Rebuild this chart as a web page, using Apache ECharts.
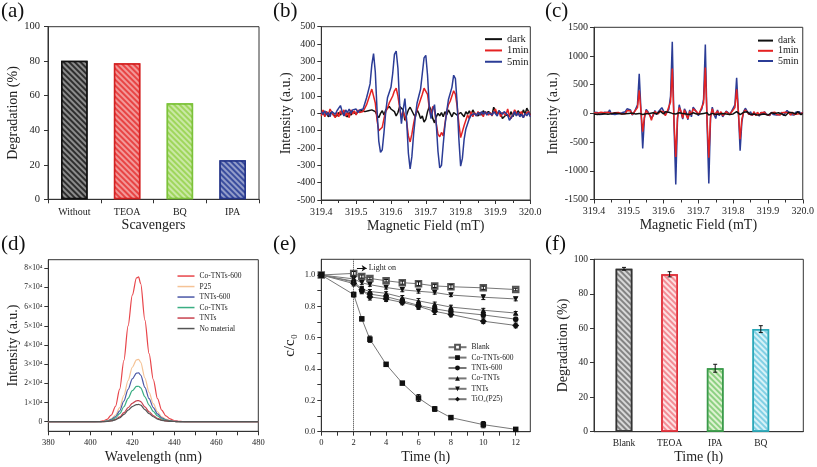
<!DOCTYPE html>
<html><head><meta charset="utf-8">
<script src="https://cdn.jsdelivr.net/npm/echarts@6/dist/echarts.min.js"></script>
<style>html,body{margin:0;padding:0;background:#fff}#c{width:817px;height:467px}</style>
</head><body><div id="c"></div>
<script>
// ---------- (a) ----------
const aCats = ['Without','TEOA','BQ','IPA'];
const aVals = [80.2, 78.8, 55.7, 22.6];
// ---------- (b),(c) shared field grid (mT) ----------
const field = [319.400,319.405,319.410,319.415,319.420,319.425,319.430,319.435,319.440,319.445,
319.450,319.455,319.460,319.465,319.470,319.475,319.480,319.485,319.490,319.495,
319.500,319.505,319.510,319.515,319.520,319.525,319.530,319.535,319.540,319.545,
319.550,319.555,319.560,319.565,319.570,319.575,319.580,319.585,319.590,319.595,
319.600,319.605,319.610,319.615,319.620,319.625,319.630,319.635,319.640,319.645,
319.650,319.655,319.660,319.665,319.670,319.675,319.680,319.685,319.690,319.695,
319.700,319.705,319.710,319.715,319.720,319.725,319.730,319.735,319.740,319.745,
319.750,319.755,319.760,319.765,319.770,319.775,319.780,319.785,319.790,319.795,
319.800,319.805,319.810,319.815,319.820,319.825,319.830,319.835,319.840,319.845,
319.850,319.855,319.860,319.865,319.870,319.875,319.880,319.885,319.890,319.895,
319.900,319.905,319.910,319.915,319.920,319.925,319.930,319.935,319.940,319.945,
319.950,319.955,319.960,319.965,319.970,319.975,319.980,319.985,319.990,319.995,
320.000];
const bDark = [-10,5,-15,10,-20,-5,10,-10,0,-15,5,-10,10,-5,0,-20,5,-10,10,0,
-5,10,0,15,5,10,0,15,10,20,30,10,-10,-25,0,15,-10,20,30,40,
25,30,10,-15,5,40,45,20,-40,-10,20,35,30,-5,-20,20,0,-30,-15,-50,
-35,10,40,20,-30,-55,-20,0,-15,5,-20,10,-10,20,0,-20,5,10,-10,-20,
5,0,-20,10,-5,15,-10,20,0,10,-15,5,-10,15,0,-5,10,15,-10,35,
10,-5,15,0,-30,-20,-10,-5,-15,10,-20,5,-10,15,0,-15,20,-5,30,10,-10];
const b1min = [-15,20,-20,10,-10,25,30,-10,-25,5,-20,15,-5,20,-15,10,-25,20,-5,15,
-10,20,5,15,10,20,50,80,110,140,130,60,-40,-100,-105,-80,-30,10,30,60,
80,100,130,145,100,30,-20,10,20,-50,-130,-165,-120,-60,-10,20,50,80,110,145,
155,110,30,-20,40,20,-60,-120,-135,-110,-130,-60,10,50,70,80,130,110,40,-60,
-140,-130,-70,-40,-10,-30,10,-20,5,-15,10,-10,5,-20,10,20,-10,5,-15,10,
25,-5,10,-20,5,15,-10,25,-15,-30,-5,20,30,-10,-20,10,-25,-5,-15,10,-15];
const b5min = [10,-5,15,-10,5,-20,10,20,-5,15,30,45,10,-15,20,5,25,0,20,10,
25,5,20,10,25,30,90,130,170,280,345,240,20,-160,-225,-210,-110,10,90,120,
150,230,340,360,260,50,-60,20,85,-40,-230,-320,-250,-120,-20,60,100,140,230,320,
335,220,40,-30,20,50,-60,-220,-315,-300,-180,-70,10,80,90,150,220,200,60,-150,
-305,-260,-150,-90,-60,-30,-10,-20,0,-15,5,-10,10,-5,10,-10,5,15,-10,10,
5,-15,15,20,-5,10,20,-10,-40,-35,-10,10,-15,5,-20,-5,-25,0,-15,5,-20];
const cDark = [-10,10,-20,5,-10,10,-5,0,-15,10,-5,-10,5,-20,0,10,-10,5,-5,10,
0,-10,5,-20,-10,-30,0,10,-20,-10,-5,20,0,-20,10,30,-10,20,40,20,
-10,30,50,20,-10,0,30,-10,-30,10,-20,0,20,-10,10,-20,-30,10,20,-10,
-40,-10,20,0,-20,10,-30,-10,0,20,-20,10,-10,-40,0,20,-10,10,-20,10,
-10,0,30,10,-20,-10,20,-10,30,0,-20,10,-10,20,-30,0,-20,10,-10,20,
-30,-10,10,-20,0,-30,10,-20,-10,0,-40,-10,20,30,10,-20,-10,30,10,-20,0];
const c1min = [10,-20,5,-10,20,-5,10,-15,20,30,0,-10,10,-15,15,5,-10,20,-5,50,
70,40,-20,20,30,100,400,30,-320,-60,50,40,-30,-120,-20,30,10,-10,40,60,
30,-40,30,50,200,780,-150,-760,-70,100,40,-80,60,-30,-90,40,-20,80,50,30,
-20,40,60,180,800,-120,-770,-60,80,-30,-60,40,-20,30,-40,-10,30,0,-20,20,
40,100,420,20,-450,-100,20,60,30,-10,20,-30,30,-40,20,-30,10,-10,20,-20,
0,-30,10,-10,20,-20,10,-30,10,-20,20,30,10,-30,20,-20,10,-10,20,0,10];
const c5min = [20,-10,15,-20,10,-15,20,-10,10,60,-10,15,-20,10,-5,20,10,-15,30,80,
110,60,-30,10,40,150,690,50,-610,-80,70,30,0,-80,-40,50,-20,30,60,100,
40,-20,20,70,300,1250,-200,-1240,-100,150,20,-100,80,20,-110,60,-60,110,70,20,
-40,30,80,250,1200,-180,-1220,-80,110,-20,-90,60,-40,20,-60,-30,40,20,-10,30,
60,150,620,30,-650,-150,30,90,40,-20,30,-40,20,-30,10,-50,20,-20,30,-10,
10,-40,20,-20,10,-30,0,-20,20,-40,10,50,30,-20,10,-30,20,0,30,-10,20];
// ---------- (d) (intensity in units of 10^4) ----------
const wl = [380,390,400,404,406,408,410,412,414,416,418,420,422,423,424,426,428,430,432,434,436,438,440,442,444,446,450,460,470,480];
const dCo600 = [0,0,0,0.01,0.04,0.12,0.35,0.8,1.7,3.2,5.0,6.6,7.5,7.55,7.2,5.3,3.55,2.2,1.2,0.6,0.3,0.15,0.06,0.02,0.01,0,0,0,0,0];
const dP25   = [0,0,0,0,0.01,0.05,0.15,0.35,0.73,1.38,2.15,2.84,3.23,3.25,3.1,2.28,1.53,0.94,0.52,0.26,0.13,0.06,0.03,0.01,0,0,0,0,0,0];
const dT600  = [0,0,0,0,0.01,0.04,0.12,0.27,0.57,1.08,1.69,2.23,2.53,2.55,2.43,1.79,1.2,0.74,0.41,0.2,0.1,0.05,0.02,0.01,0,0,0,0,0,0];
const dCo    = [0,0,0,0,0.01,0.03,0.09,0.2,0.42,0.78,1.22,1.62,1.84,1.85,1.77,1.3,0.87,0.54,0.3,0.15,0.07,0.04,0.01,0,0,0,0,0,0,0];
const dT     = [0,0,0,0,0,0.02,0.05,0.12,0.25,0.47,0.73,0.96,1.09,1.1,1.05,0.77,0.52,0.32,0.18,0.09,0.04,0.02,0.01,0,0,0,0,0,0,0];
const dNone  = [0,0,0,0,0,0.01,0.04,0.1,0.2,0.38,0.6,0.79,0.89,0.9,0.86,0.63,0.42,0.26,0.14,0.07,0.04,0.02,0.01,0,0,0,0,0,0,0];
const dNames = ['Co-TNTs-600','P25','TNTs-600','Co-TNTs','TNTs','No material'];
const dYTicks = [0,1,2,3,4,5,6,7,8];
// ---------- (e) ----------
const time = [0,2,2.5,3,4,5,6,7,8,10,12];
const eBlank = [1.0,1.01,0.99,0.978,0.963,0.951,0.944,0.93,0.925,0.918,0.907];
const eCo600 = [1.0,0.875,0.72,0.59,0.43,0.31,0.215,0.145,0.09,0.045,0.015];
const eT600  = [1.0,0.955,0.9,0.878,0.862,0.835,0.806,0.784,0.767,0.745,0.718];
const eCo    = [1.0,0.96,0.91,0.895,0.883,0.857,0.835,0.815,0.795,0.775,0.757];
const eT     = [1.0,0.975,0.95,0.938,0.92,0.905,0.896,0.888,0.872,0.858,0.847];
const eP25   = [1.0,0.945,0.905,0.86,0.846,0.825,0.8,0.768,0.748,0.705,0.678];
const eBlankErr = [0,0.012,0.01,0.008,0.008,0.01,0.012,0.01,0.012,0.01,0.008];
const eCo600Err = [0,0.015,0.012,0.02,0.01,0.01,0.022,0.015,0.01,0.02,0.01];
const eT600Err  = [0,0.012,0.02,0.015,0.012,0.015,0.02,0.015,0.015,0.015,0.012];
const eCoErr    = [0,0.01,0.015,0.012,0.01,0.012,0.015,0.012,0.012,0.012,0.01];
const eTErr     = [0,0.012,0.012,0.01,0.01,0.012,0.012,0.01,0.01,0.015,0.012];
const eP25Err   = [0,0.015,0.02,0.02,0.015,0.015,0.02,0.02,0.015,0.015,0.015];
const eNames = ['Blank','Co-TNTs-600','TNTs-600','Co-TNTs','TNTs','TiO₂(P25)'];
const eXTicks = [0,1,2,3,4,5,6,7,8,9,10,11,12];
const eXLabels = [0,2,4,6,8,10,12];
const eYLabels = [0,0.2,0.4,0.6,0.8,1.0];
const lightOnAt = 2;
// ---------- (f) ----------
const fCats = ['Blank','TEOA','IPA','BQ'];
const fPos = [1,2,3,4];
const fVals = [94.5, 91.3, 36.8, 59.5];
const fErr = [0.8, 1.5, 2.3, 2.0];

const F = '"Liberation Serif","Times New Roman",serif';
const AX = '#333';
function ax(o){
  const base = {
    nameLocation:'middle',
    nameTextStyle:{fontFamily:F,fontSize:14,color:'#222'},
    axisLine:{show:true,onZero:false,lineStyle:{color:AX,width:1}},
    axisTick:{show:true,inside:false,length:4,lineStyle:{color:AX}},
    splitLine:{show:false}
  };
  const r = Object.assign(base, o);
  r.axisLabel = Object.assign({fontFamily:F,color:'#222',fontSize:10,margin:6}, o.axisLabel||{});
  if (o.axisTick) r.axisTick = Object.assign({show:true,inside:false,length:4,lineStyle:{color:AX}}, o.axisTick);
  return r;
}
function grid(l,t,w,h){return {left:l,top:t,width:w,height:h,show:true,borderColor:AX,borderWidth:1,backgroundColor:'transparent'};}
function hatch(c){return {symbol:'rect',symbolSize:1,dashArrayX:[1,0],dashArrayY:[2,2],rotation:Math.PI/4,color:c};}
function errRender(params, api){
  const x=api.value(0), y=api.value(1), e=api.value(2);
  if(!e) return {type:'group',children:[]};
  const t=api.coord([x,y+e]), b=api.coord([x,y-e]);
  const w=2, st={stroke:'#111',lineWidth:1};
  return {type:'group',children:[
    {type:'line',shape:{x1:t[0],y1:t[1],x2:b[0],y2:b[1]},style:st},
    {type:'line',shape:{x1:t[0]-w,y1:t[1],x2:t[0]+w,y2:t[1]},style:st},
    {type:'line',shape:{x1:b[0]-w,y1:b[1],x2:b[0]+w,y2:b[1]},style:st}]};
}
const zw = '\u200b';
const strip = n => n.replace(/\u200b/g,'');

const aColors = [['#2e2e2e','#111'],['#e84444','#d42222'],['#9fd65c','#7cc23a'],['#3a4d9e','#25368a']];
const fColors = [['#d8d8d8','#333','rgba(110,110,110,0.8)'],['#fde0e2','#e0303a','rgba(240,120,130,0.8)'],['#def2d2','#3a9a4a','rgba(120,200,110,0.8)'],['#d6f2f7','#2ba8b8','rgba(110,200,225,0.8)']];
const dColors = ['#e8454a','#f5c396','#4a57a6','#3aae83','#c8424f','#555555'];

const series = [];
// (a)
series.push({type:'bar',xAxisIndex:0,yAxisIndex:0,barWidth:26.5,
  data:aVals.map((v,i)=>({value:v,itemStyle:{color:aColors[i][0],borderColor:aColors[i][1],borderWidth:1.5,decal:hatch('rgba(255,255,255,0.45)')}}))});
// (b)
const bSer = [['dark',bDark,'#111'],['1min',b1min,'#e52222'],['5min',b5min,'#2b3c96']];
bSer.forEach(s=>series.push({type:'line',name:s[0],xAxisIndex:1,yAxisIndex:1,symbol:'none',showSymbol:false,
  lineStyle:{color:s[2],width:1.5},itemStyle:{color:s[2]},data:field.map((x,i)=>[x,s[1][i]])}));
// (c)
const cSer = [['5min'+zw,c5min,'#2b3c96'],['1min'+zw,c1min,'#e52222'],['dark'+zw,cDark,'#111']];
cSer.forEach(s=>series.push({type:'line',name:s[0],xAxisIndex:2,yAxisIndex:2,symbol:'none',showSymbol:false,
  lineStyle:{color:s[2],width:1.5},itemStyle:{color:s[2]},data:field.map((x,i)=>[x,s[1][i]])}));
// (d)
[dCo600,dP25,dT600,dCo,dT,dNone].forEach((arr,k)=>series.push({type:'line',name:dNames[k],xAxisIndex:3,yAxisIndex:3,
  symbol:'none',showSymbol:false,smooth:0.3,smoothMonotone:'x',lineStyle:{color:dColors[k],width:1.2},itemStyle:{color:dColors[k]},
  data:wl.map((x,i)=>[x,arr[i]])}));
// (e)
const downTri = 'path://M0,0L10,0L5,9Z';
const eSer = [[eBlank,eBlankErr,'emptyRect','#555'],[eCo600,eCo600Err,'rect','#111'],[eT600,eT600Err,'circle','#111'],
              [eCo,eCoErr,'triangle','#111'],[eT,eTErr,downTri,'#111'],[eP25,eP25Err,'diamond','#111']];
eSer.forEach((s,k)=>{
  const ser = {type:'line',name:eNames[k]+zw,xAxisIndex:4,yAxisIndex:4,symbol:s[2],symbolSize:s[2]==='diamond'?7:5.5,
    lineStyle:{color:'#777',width:1},itemStyle:{color:s[3],borderWidth:s[2]==='emptyRect'?0.8:0},
    data:time.map((t,i)=>[t,s[0][i]]),z:3};
  if(k===0){
    ser.markLine = {silent:true,symbol:['none','none'],animation:false,
      data:[
        [{coord:[lightOnAt,0],symbol:'none'},{coord:[lightOnAt,1.1],symbol:'none'}],
        [{coord:[2.2,1.043],symbol:'none'},{coord:[2.8,1.043],symbol:'arrow',symbolSize:5,
          label:{show:true,position:'end',formatter:'Light on',fontFamily:F,fontSize:8,color:'#222',distance:2},
          lineStyle:{type:'solid',color:'#111',width:1}}]
      ],
      lineStyle:{type:'dotted',color:'#333',width:1},label:{show:false}};
  }
  series.push(ser);
  series.push({type:'custom',xAxisIndex:4,yAxisIndex:4,renderItem:errRender,z:4,silent:true,
    data:time.map((t,i)=>[t,s[0][i],s[1][i]])});
});
// (f)
series.push({type:'bar',xAxisIndex:5,yAxisIndex:5,barWidth:16.7,
  data:fPos.map((p,i)=>({value:[p,fVals[i]],itemStyle:{color:fColors[i][0],borderColor:fColors[i][1],borderWidth:1.5,decal:hatch(fColors[i][2])}}))});
series.push({type:'custom',xAxisIndex:5,yAxisIndex:5,renderItem:errRender,z:4,silent:true,
  data:fPos.map((p,i)=>[p,fVals[i],fErr[i]])});

const legText = fs => ({fontFamily:F,fontSize:fs,color:'#222'});
const option = {
  animation:false,
  backgroundColor:'#fff',
  title:[
    {text:'(a)',left:1,top:1},{text:'(b)',left:273,top:1},{text:'(c)',left:545,top:1},
    {text:'(d)',left:1,top:234},{text:'(e)',left:273,top:234},{text:'(f)',left:545,top:234}
  ].map(t=>Object.assign(t,{padding:0,textStyle:{fontFamily:F,fontSize:21,fontWeight:'normal',color:'#111'}})),
  grid:[grid(48,26.7,211,172.6),grid(321.3,26.7,209,173.3),grid(594,27.3,209.3,172.2),
        grid(48.3,259.7,210,171.6),grid(321.3,259.3,209,172.4),grid(594,259.3,209.3,172.4)],
  legend:[
    {data:['dark','1min','5min'],icon:'rect',left:485,top:33.5,orient:'vertical',itemWidth:17,itemHeight:2,itemGap:0,selectedMode:false,padding:0,
      textStyle:Object.assign(legText(10.5),{lineHeight:11.3})},
    {data:['dark'+zw,'1min'+zw,'5min'+zw],icon:'rect',left:758,top:35.5,orient:'vertical',itemWidth:15,itemHeight:2,itemGap:0,selectedMode:false,padding:0,
      formatter:strip,textStyle:Object.assign(legText(10),{lineHeight:10.2})},
    {data:dNames,icon:'rect',left:177.5,top:270.8,orient:'vertical',itemWidth:17,itemHeight:1.5,itemGap:0,selectedMode:false,padding:0,
      textStyle:Object.assign(legText(7.5),{lineHeight:10.5})},
    {data:eNames.map(n=>n+zw),left:447.5,top:342,orient:'vertical',itemWidth:18,itemHeight:6,itemGap:0,selectedMode:false,padding:0,
      formatter:strip,textStyle:Object.assign(legText(7.5),{lineHeight:10.4})}
  ],
  xAxis:[
    ax({gridIndex:0,type:'category',data:aCats,name:'Scavengers',nameGap:19,axisLabel:{fontSize:10,margin:8},axisTick:{length:4}}),
    ax({gridIndex:1,type:'value',min:319.4,max:320.0,interval:0.1,name:'Magnetic Field (mT)',nameGap:19,
        minorTick:{show:true,splitNumber:2,length:3,lineStyle:{color:AX}},axisLabel:{fontSize:10,margin:7,formatter:v=>v.toFixed(1)}}),
    ax({gridIndex:2,type:'value',min:319.4,max:320.0,interval:0.1,name:'Magnetic Field (mT)',nameGap:19,
        minorTick:{show:true,splitNumber:2,length:3,lineStyle:{color:AX}},axisLabel:{fontSize:10,margin:7,formatter:v=>v.toFixed(1)}}),
    ax({gridIndex:3,type:'value',min:380,max:480,name:'Wavelength (nm)',nameGap:19,
        axisTick:{customValues:[380,390,400,410,420,430,440,450,460,470,480]},
        axisLabel:{fontSize:8.5,margin:7,customValues:[380,400,420,440,460,480]}}),
    ax({gridIndex:4,type:'value',min:0,max:12.9,name:'Time (h)',nameGap:19,
        axisTick:{customValues:eXTicks},axisLabel:{fontSize:8.5,margin:7,customValues:eXLabels}}),
    ax({gridIndex:5,type:'value',min:0.342,max:4.932,name:'Time (h)',nameGap:19,
        axisTick:{show:false},axisLabel:{fontSize:9.5,margin:7,customValues:fPos,formatter:v=>fCats[Math.round(v)-1]}})
  ],
  yAxis:[
    ax({gridIndex:0,type:'value',min:0,max:100,interval:20,name:'Degradation (%)',nameGap:28,axisLabel:{fontSize:10.5,margin:8}}),
    ax({gridIndex:1,type:'value',min:-500,max:500,interval:100,name:'Intensity (a.u.)',nameGap:27,axisLabel:{fontSize:10,margin:6}}),
    ax({gridIndex:2,type:'value',min:-1500,max:1500,interval:500,name:'Intensity (a.u.)',nameGap:24,axisLabel:{fontSize:10,margin:6,formatter:v=>String(v)}}),
    ax({gridIndex:3,type:'value',min:-0.5,max:8.45,name:'Intensity (a.u.)',nameGap:28,
        axisTick:{customValues:dYTicks},axisLabel:{fontSize:7.5,margin:6,customValues:dYTicks,formatter:v=>v===0?'0':v+'×10⁴'}}),
    ax({gridIndex:4,type:'value',min:0,max:1.1,name:'c/c₀',nameGap:24,nameTextStyle:{fontFamily:F,fontSize:15,color:'#222'},
        axisTick:{customValues:[0,0.1,0.2,0.3,0.4,0.5,0.6,0.7,0.8,0.9,1.0]},
        axisLabel:{fontSize:8.5,margin:6,customValues:eYLabels,formatter:v=>v.toFixed(1)}}),
    ax({gridIndex:5,type:'value',min:0,max:100,interval:20,name:'Degradation (%)',nameGap:23,axisLabel:{fontSize:9.5,margin:6}})
  ],
  series:series
};
const chart = echarts.init(document.getElementById('c'),null,{renderer:'canvas'});
chart.setOption(option);
</script></body></html>
